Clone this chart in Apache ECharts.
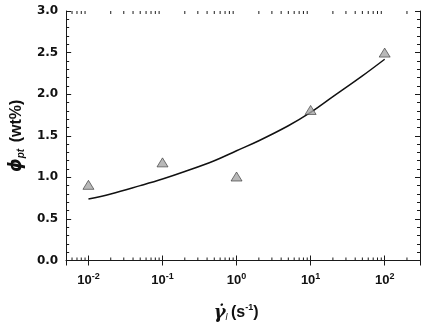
<!DOCTYPE html>
<html><head><meta charset="utf-8">
<script src="https://cdn.jsdelivr.net/npm/echarts@6/dist/echarts.min.js"></script>
<style>html,body{margin:0;padding:0;background:#fff}#c{width:426px;height:327px}</style>
</head><body><div id="c"></div>
<script>
// measured points (shear rate s^-1, phi_pt wt%)
const shearRates = [0.01, 0.1, 1, 10, 100];
const phiValues = [0.91, 1.18, 1.01, 1.81, 2.50];
// fitted curve
const fitX = [0.01, 0.02, 0.05, 0.1, 0.2, 0.5, 1, 2, 5, 10, 20, 50, 100];
const fitY = [0.74, 0.80, 0.90, 0.98, 1.07, 1.20, 1.32, 1.44, 1.62, 1.78, 1.97, 2.22, 2.42];
// minor ticks of the log axis
const minorTickValues = [0.006,0.007,0.008,0.009,
  0.02,0.03,0.04,0.05,0.06,0.07,0.08,0.09,
  0.2,0.3,0.4,0.5,0.6,0.7,0.8,0.9,
  2,3,4,5,6,7,8,9,
  20,30,40,50,60,70,80,90,200];
const yTicks = [0, 0.5, 1.0, 1.5, 2.0, 2.5, 3.0];

const chart = echarts.init(document.getElementById('c'), null, {renderer: 'canvas'});
const axisCol = '#1a1a1a';
const lblFont = 'Liberation Sans';
const xAxisCommon = {
  type: 'log', logBase: 10, min: 0.005, max: 300,
  axisLine: {show: true, lineStyle: {color: axisCol, width: 1}},
  axisTick: {show: true, inside: true, length: 5, lineStyle: {color: axisCol}},
  splitLine: {show: false}, minorTick: {show: false}, minorSplitLine: {show: false}
};
const yAxisCommon = {
  type: 'value', min: yTicks[0], max: yTicks[yTicks.length - 1], interval: 0.5,
  axisLine: {show: true, lineStyle: {color: axisCol, width: 1}},
  axisTick: {show: true, inside: true, length: 5, lineStyle: {color: axisCol}},
  minorTick: {show: true, splitNumber: 5, length: 3, lineStyle: {color: axisCol}},
  splitLine: {show: false}
};
chart.setOption({
  animation: false,
  backgroundColor: '#fff',
  grid: {left: 65, right: 6, top: 11, bottom: 65, containLabel: false},
  xAxis: [
    Object.assign({}, xAxisCommon, {
      position: 'bottom',
      name: '{g|γ̇}{sub|l} {p|(s}{sup|-1}{p|)}',
      nameLocation: 'middle', nameGap: 43,
      nameTextStyle: {
        padding: [0, 14, 0, 0],
        rich: {
          g: {fontFamily: 'DejaVu Serif', fontStyle: 'italic', fontWeight: 'bold', fontSize: 18, color: '#111'},
          sub: {fontFamily: lblFont, fontStyle: 'italic', fontSize: 9, color: '#111', padding: [8, 0, 0, 0]},
          p: {fontFamily: lblFont, fontWeight: 'bold', fontSize: 16, color: '#111'},
          sup: {fontFamily: lblFont, fontWeight: 'bold', fontSize: 9, color: '#111', padding: [0, 0, 10, 0]}
        }
      },
      axisLabel: {
        show: true, margin: 12, showMinLabel: false, showMaxLabel: false,
        formatter: function (v) {
          const e = Math.round(Math.log10(v));
          return '{b|10}{s|' + e + '}';
        },
        rich: {
          b: {fontFamily: lblFont, fontWeight: 'bold', fontSize: 13, color: '#111'},
          s: {fontFamily: lblFont, fontWeight: 'bold', fontSize: 9, color: '#111', padding: [0, 0, 7, 0]}
        }
      }
    }),
    Object.assign({}, xAxisCommon, {position: 'top', axisLabel: {show: false}})
  ],
  yAxis: [
    Object.assign({}, yAxisCommon, {
      position: 'left',
      name: '{phi|ϕ}{sub|pt}  {p|(wt%)}',
      nameLocation: 'middle', nameGap: 40, nameRotate: 90,
      nameTextStyle: {
        rich: {
          phi: {fontFamily: 'DejaVu Sans', fontStyle: 'italic', fontWeight: 'bold', fontSize: 17, color: '#111'},
          sub: {fontFamily: lblFont, fontStyle: 'italic', fontWeight: 'bold', fontSize: 10, color: '#111', padding: [9, 0, 0, 0]},
          p: {fontFamily: lblFont, fontWeight: 'bold', fontSize: 16, color: '#111'}
        }
      },
      axisLabel: {
        show: true, margin: 8,
        fontFamily: 'DejaVu Sans', fontWeight: 'bold', fontSize: 12, color: '#111',
        formatter: function (v) { return v.toFixed(1); }
      }
    }),
    Object.assign({}, yAxisCommon, {position: 'right', axisLabel: {show: false}})
  ],
  series: [
    {
      type: 'custom', xAxisIndex: 0, yAxisIndex: 0, silent: true, clip: false,
      data: minorTickValues.map(v => [v]),
      renderItem: function (params, api) {
        const v = api.value(0);
        const b = api.coord([v, yTicks[0]]);
        const t = api.coord([v, yTicks[yTicks.length - 1]]);
        const st = {stroke: axisCol, lineWidth: 1};
        return {type: 'group', children: [
          {type: 'line', shape: {x1: b[0], y1: b[1], x2: b[0], y2: b[1] - 3}, style: st},
          {type: 'line', shape: {x1: t[0], y1: t[1], x2: t[0], y2: t[1] + 3}, style: st}
        ]};
      }
    },
    {
      type: 'line', xAxisIndex: 0, yAxisIndex: 0,
      data: fitX.map((x, i) => [x, fitY[i]]),
      smooth: 0.4, showSymbol: false, symbol: 'none',
      lineStyle: {color: '#111', width: 1.5}, z: 3
    },
    {
      type: 'scatter', xAxisIndex: 0, yAxisIndex: 0,
      data: shearRates.map((x, i) => [x, phiValues[i]]),
      symbol: 'triangle', symbolSize: [11, 9],
      itemStyle: {color: '#a6a6a6', borderColor: '#333', borderWidth: 0.8}, z: 4
    }
  ]
});
</script></body></html>
